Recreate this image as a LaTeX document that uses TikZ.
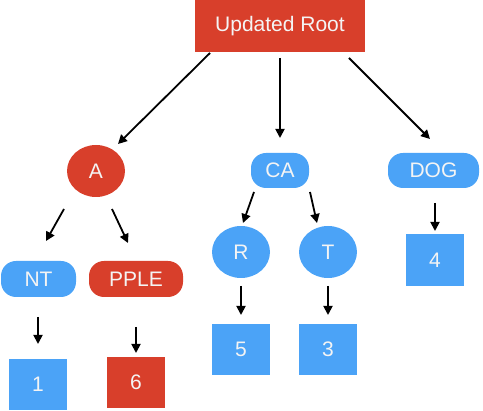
\documentclass[tikz,border=0pt]{standalone}
\usepackage{fontspec}
\setmainfont{Liberation Sans}
\usetikzlibrary{shapes.geometric,arrows.meta}
\definecolor{tred}{HTML}{D83F2B}
\definecolor{tblue}{HTML}{4BA3F7}
\definecolor{ttext}{HTML}{F4F4F4}
\begin{document}
\begin{tikzpicture}[x=1pt,y=-1pt,
  base/.style={inner sep=0pt,outer sep=0pt,text=ttext,font=\fontsize{21}{24}\selectfont},
  box/.style={base,rectangle,minimum width=58pt,minimum height=51pt},
  pill/.style={base,rectangle,rounded corners=15pt,minimum height=35pt},
  oval/.style={base,ellipse,minimum width=58pt,minimum height=52pt},
  arr/.style={line width=1.8pt,-{Triangle[length=9pt,width=9pt]}}]
\useasboundingbox (0,0) rectangle (483,411);
\node[base,rectangle,fill=tred,minimum width=170pt,minimum height=52pt] (root) at (280,26) {Updated Root};
\node[oval,fill=tred] (A) at (96,171) {A};
\node[pill,fill=tblue,minimum width=58pt] (CA) at (280,170.5) {CA};
\node[pill,fill=tblue,minimum width=91pt] (DOG) at (433.5,170.5) {DOG};
\node[pill,fill=tblue,minimum width=75pt,minimum height=36pt] (NT) at (38.5,279) {NT};
\node[pill,fill=tred,minimum width=94pt,minimum height=36pt] (PPLE) at (136,279) {PPLE};
\node[oval,fill=tblue] (R) at (241,252) {R};
\node[oval,fill=tblue] (T) at (328,252) {T};
\node[box,fill=tblue,minimum height=52pt] (n4) at (435,260) {4};
\node[box,fill=tblue] (n1) at (38,384.5) {1};
\node[box,fill=tred] (n6) at (136,382.5) {6};
\node[box,fill=tblue] (n5) at (241,349.5) {5};
\node[box,fill=tblue] (n3) at (328,349.5) {3};
\draw[arr] ([shift={(-70,27)}]root.center) -- ([shift={(22,-27)}]A.center);
\draw[arr] ([shift={(0,32)}]root.center) -- ([shift={(0,-32.5)}]CA.center);
\draw[arr] ([shift={(69,32)}]root.center) -- ([shift={(-3.5,-31.5)}]DOG.center);
\draw[arr] ([shift={(-32,38)}]A.center) -- ([shift={(7.5,-38)}]NT.center);
\draw[arr] ([shift={(16,38)}]A.center) -- ([shift={(-8,-36)}]PPLE.center);
\draw[arr] ([shift={(-26,21.5)}]CA.center) -- ([shift={(2,-29)}]R.center);
\draw[arr] ([shift={(30,21.5)}]CA.center) -- ([shift={(-11,-29)}]T.center);
\draw[arr] ([shift={(1.5,32.5)}]DOG.center) -- ([shift={(0,-29)}]n4.center);
\draw[arr] ([shift={(-0.5,38)}]NT.center) -- ([shift={(0,-40.5)}]n1.center);
\draw[arr] ([shift={(0,48)}]PPLE.center) -- ([shift={(0,-29.5)}]n6.center);
\draw[arr] ([shift={(0,34)}]R.center) -- ([shift={(0,-34.5)}]n5.center);
\draw[arr] ([shift={(0,34)}]T.center) -- ([shift={(0,-34.5)}]n3.center);
\end{tikzpicture}
\end{document}
